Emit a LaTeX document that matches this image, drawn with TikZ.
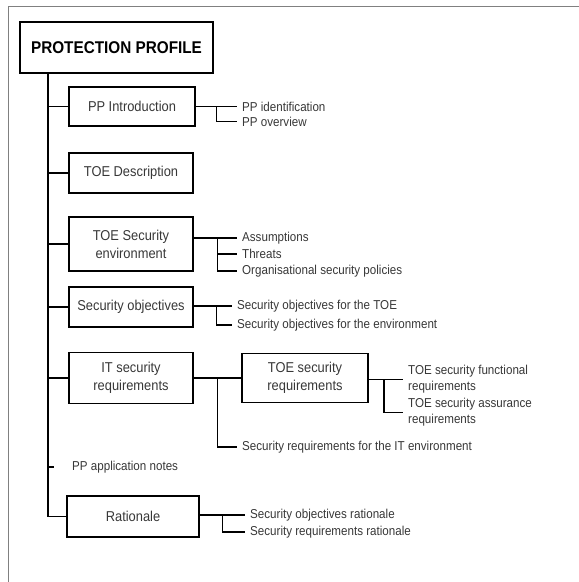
\documentclass[tikz,border=0pt]{standalone}
\usepackage{fontspec}
\setmainfont[FakeStretch=0.9]{Liberation Sans}
\usepackage{tikz}
\usetikzlibrary{positioning, calc}
\definecolor{cFrame}{RGB}{128,128,128}
\definecolor{cText}{RGB}{55,55,55}
\tikzset{
	titlebox/.style={rectangle, draw=black, line width=1.6pt, minimum width=193pt, minimum height=51pt, inner sep=0pt, font=\fontsize{17}{20}\selectfont\bfseries, text=black},
	blk/.style     ={rectangle, draw=black, line width=1.6pt, minimum width=124pt, minimum height=40pt, inner sep=0pt, align=center, font=\fontsize{14.3}{18}\selectfont, text=cText},
	item/.style    ={anchor=west, inner xsep=5pt, inner ysep=0pt, align=left, font=\fontsize{12.9}{16}\selectfont, text=cText},
	% tree lines
	link/.style    ={line width=1.5pt},
	frame/.style   ={draw=cFrame, line width=1.4pt},
}
\begin{document}
\begin{tikzpicture}[x=1pt, y=-1pt]
	\useasboundingbox (0,0) rectangle (579,582);
	\draw[frame] (8.5,582) |- (579,6.5);

	\node[titlebox] (pp) at (116.5,47.5) {PROTECTION PROFILE};
	\node[blk, minimum width=126pt, minimum height=39pt] (intro) at (132,106.5) {PP Introduction};
	\node[blk] (desc) at (131,173) {TOE Description};
	\node[blk, minimum height=54pt] (env) at (131,244) {TOE Security\\ environment};
	\node[blk] (obj) at (131,307) {Security objectives};
	\node[blk, minimum height=51pt] (itreq) at (131,378) {IT security\\ requirements};
	\node[blk, minimum width=126pt, minimum height=49pt] (toereq) at (305,378) {TOE security\\ requirements};
	\node[blk, minimum width=132pt, minimum height=41pt] (rat) at (133,516.5) {Rationale};

	\node[item] (ppid) at (237,106.5) {PP identification};
	\node[item] (ppov) at (237,121.5) {PP overview};
	\node[item] (assum) at (237,238) {Assumptions};
	\node[item] (threat) at (237,254) {Threats};
	\node[item] (orgpol) at (237,271) {Organisational security policies};
	\node[item] (objtoe) at (232,306) {Security objectives for the TOE};
	\node[item] (objenv) at (232,325) {Security objectives for the environment};
	\node[item] (itenv) at (237,447) {Security requirements for the IT environment};
	\node[item] (tsf) at (403,379.5) {TOE security functional\\ requirements};
	\node[item] (tsa) at (403,412.5) {TOE security assurance\\ requirements};
	\node[item] (notes) at (67,467) {PP application notes};
	\node[item] (objrat) at (245,515) {Security objectives rationale};
	\node[item] (reqrat) at (245,532) {Security requirements rationale};

	\coordinate (trunk) at ($(pp.south west)+(29,0)$);
	\draw[link] (trunk) |- (rat.west);
	\foreach \b in {intro,desc,env,obj,itreq}
		\draw[link] (\b.west) -- (\b.west -| trunk);
	\draw[link] (notes.west -| trunk) -- ++(6,0);

	\draw[link] (intro.east) -- (ppid.west);
	\draw[link] ($(intro.east)!.5!(ppid.west)$) |- (ppov.west);

	\draw[link] (assum.west -| env.east) -- (assum.west);
	\coordinate (envb) at ($(assum.west -| env.east)!.55!(assum.west)$);
	\foreach \i in {threat,orgpol}
		\draw[link] (envb) |- (\i.west);

	\draw[link] (objtoe.west -| obj.east) -- (objtoe.west);
	\draw[link] ($(objtoe.west -| obj.east)!.6!(objtoe.west)$) |- (objenv.west);

	\draw[link] (itreq.east) -- (toereq.west);
	\draw[link] ($(itreq.east)!.5!(toereq.west)$) |- (itenv.west);

	\draw[link] (tsf.west -| toereq.east) -- (tsf.west);
	\draw[link] ($(tsf.west -| toereq.east)!.45!(tsf.west)$) |- (tsa.west);

	\draw[link] (objrat.west -| rat.east) -- (objrat.west);
	\draw[link] ($(objrat.west -| rat.east)!.5!(objrat.west)$) |- (reqrat.west);
\end{tikzpicture}
\end{document}
